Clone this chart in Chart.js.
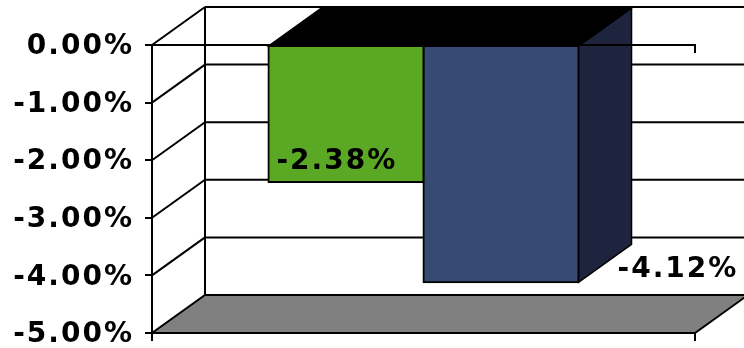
<!DOCTYPE html>
<html>
<head>
<meta charset="utf-8">
<script src="https://cdn.jsdelivr.net/npm/chart.js@4.4.1/dist/chart.umd.min.js"></script>
<style>
  html, body { margin: 0; padding: 0; background: #fff; }
  #wrap { width: 744px; height: 348px; position: relative; }
</style>
</head>
<body>
<div id="wrap"><canvas id="returnsChart"></canvas></div>
<script>
// ----------------------------
// Data
// ----------------------------
const categories = [''];
const firstSeries = [-2.38];
const secondSeries = [-4.12];
const seriesColors = ['#5aa823', '#364a74'];
const sideColors = ['#2f5812', '#1e233e'];
const axisMin = -5;
const axisMax = 0;
const axisStep = 1;

// depth of the 3D box, in pixels
const DEPTH_X = 53;
const DEPTH_Y = 38;
const FONT_FAMILY = '"DejaVu Sans", Verdana, sans-serif';
const FONT_SIZE = 28;
const SPACING = '2px';

function pct(v) {
    return v.toFixed(2) + '%';
}

function poly(ctx, pts, fill, stroke, width) {
    ctx.beginPath();
    ctx.moveTo(pts[0][0], pts[0][1]);
    for (let i = 1; i < pts.length; i++) ctx.lineTo(pts[i][0], pts[i][1]);
    ctx.closePath();
    if (fill) { ctx.fillStyle = fill; ctx.fill(); }
    if (stroke) { ctx.strokeStyle = stroke; ctx.lineWidth = width; ctx.stroke(); }
}

function line(ctx, x1, y1, x2, y2) {
    ctx.beginPath();
    ctx.moveTo(x1, y1);
    ctx.lineTo(x2, y2);
    ctx.stroke();
}

// ----------------------------
// Walls, floor and bar depth
// ----------------------------
const boxPlugin = {
    id: 'box3d',
    beforeDraw(chart) {
        chart.ctx.letterSpacing = SPACING;
    },
    beforeDatasetsDraw(chart) {
        const { ctx, chartArea, scales } = chart;
        const { left, right, bottom } = chartArea;
        const y = scales.y;
        ctx.save();
        ctx.strokeStyle = '#000';
        ctx.lineWidth = 2;

        // back wall gridlines and left wall diagonals
        for (let v = axisMax; v > axisMin; v -= axisStep) {
            const py = y.getPixelForValue(v);
            line(ctx, left + DEPTH_X, py - DEPTH_Y, right + DEPTH_X, py - DEPTH_Y);
            line(ctx, left, py, left + DEPTH_X, py - DEPTH_Y);
        }
        const topY = y.getPixelForValue(axisMax);
        line(ctx, left + DEPTH_X, topY - DEPTH_Y, left + DEPTH_X, bottom - DEPTH_Y);

        // floor
        poly(ctx, [[left, bottom], [right, bottom], [right + DEPTH_X, bottom - DEPTH_Y], [left + DEPTH_X, bottom - DEPTH_Y]],
            '#808080', '#000', 2);

        // side and top faces of each bar
        chart.data.datasets.forEach((ds, i) => {
            const meta = chart.getDatasetMeta(i);
            meta.data.forEach(bar => {
                const L = bar.x - bar.width / 2;
                const R = bar.x + bar.width / 2;
                const t = Math.min(bar.y, bar.base);
                const b = Math.max(bar.y, bar.base);
                poly(ctx, [[R, t], [R + DEPTH_X, t - DEPTH_Y], [R + DEPTH_X, b - DEPTH_Y], [R, b]], sideColors[i], '#000', 1.5);
                poly(ctx, [[L, t], [L + DEPTH_X, t - DEPTH_Y], [R + DEPTH_X, t - DEPTH_Y], [R, t]], '#000', '#000', 1.5);
            });
        });
        ctx.restore();
    },
    afterDatasetsDraw(chart) {
        const { ctx, chartArea, scales } = chart;
        const { left, right, bottom } = chartArea;
        const zeroY = scales.y.getPixelForValue(0);
        ctx.save();
        ctx.strokeStyle = '#000';
        ctx.lineWidth = 2;

        // category axis at zero, with its end ticks
        line(ctx, left, zeroY, right, zeroY);
        line(ctx, right, zeroY - 1, right, zeroY + 8);
        line(ctx, left, bottom, left, bottom + 8);
        line(ctx, right, bottom, right, bottom + 8);

        // value labels
        ctx.letterSpacing = SPACING;
        ctx.font = 'bold ' + FONT_SIZE + 'px ' + FONT_FAMILY;
        ctx.fillStyle = '#000';
        ctx.textAlign = 'left';
        ctx.textBaseline = 'middle';
        chart.data.datasets.forEach((ds, i) => {
            const meta = chart.getDatasetMeta(i);
            meta.data.forEach((bar, j) => {
                const L = bar.x - bar.width / 2;
                const R = bar.x + bar.width / 2;
                const b = Math.max(bar.y, bar.base);
                const text = pct(ds.data[j]);
                if (i === 0) {
                    ctx.fillText(text, L + 8, b - 20);
                } else {
                    ctx.fillText(text, R + 39, b - 13);
                }
            });
        });
        ctx.restore();
    }
};

// ----------------------------
// Chart
// ----------------------------
const ctx = document.getElementById('returnsChart').getContext('2d');
new Chart(ctx, {
    type: 'bar',
    data: {
        labels: categories,
        datasets: [
            {
                data: firstSeries,
                backgroundColor: seriesColors[0],
                borderColor: '#000',
                borderWidth: 2,
                borderSkipped: false,
                inflateAmount: 1
            },
            {
                data: secondSeries,
                backgroundColor: seriesColors[1],
                borderColor: '#000',
                borderWidth: 2,
                borderSkipped: false,
                inflateAmount: 1
            }
        ]
    },
    options: {
        responsive: true,
        maintainAspectRatio: false,
        animation: false,
        categoryPercentage: 0.571,
        barPercentage: 1.0,
        layout: { padding: { top: 45, bottom: 15, right: 49, left: 0 } },
        plugins: {
            legend: { display: false },
            tooltip: { enabled: false }
        },
        scales: {
            x: { display: false },
            y: {
                min: axisMin,
                max: axisMax,
                afterFit(scale) {
                    scale.width = 152;
                    scale.paddingTop = 0;
                    scale.paddingBottom = 0;
                },
                border: { display: true, color: '#000', width: 2 },
                grid: {
                    drawOnChartArea: false,
                    drawTicks: true,
                    tickLength: 7,
                    color: '#000',
                    lineWidth: 2
                },
                ticks: {
                    stepSize: axisStep,
                    padding: 11,
                    labelOffset: 2,
                    color: '#000',
                    font: { family: FONT_FAMILY, size: FONT_SIZE, weight: 'bold' },
                    callback: function (value) {
                        return pct(value);
                    }
                }
            }
        }
    },
    plugins: [boxPlugin]
});
</script>
</body>
</html>
